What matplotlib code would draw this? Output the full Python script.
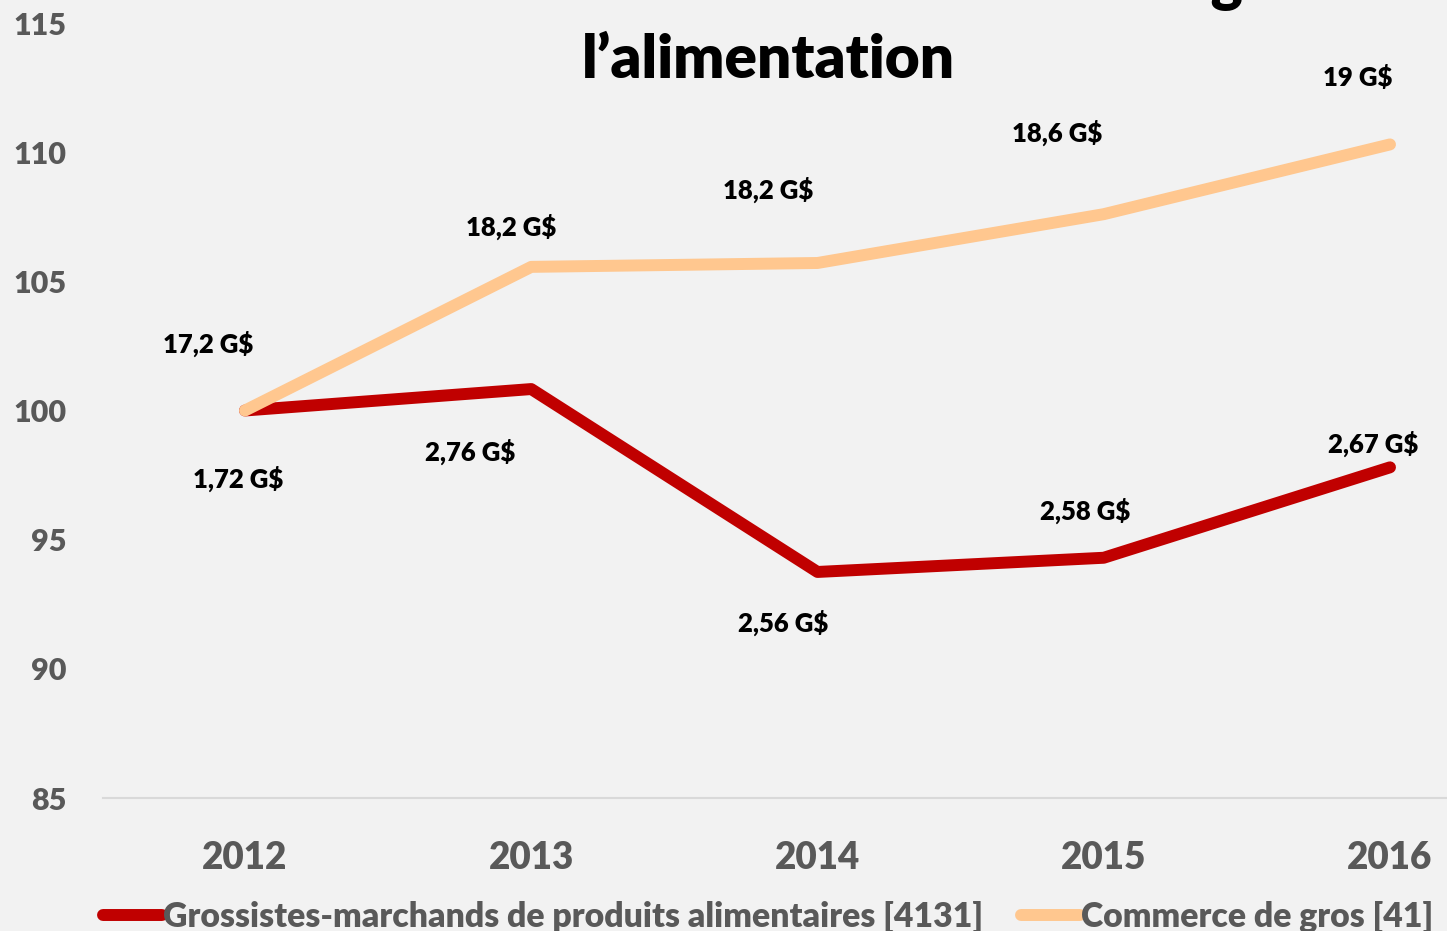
import matplotlib.pyplot as plt

plt.rcParams['font.family'] = ['Lato', 'DejaVu Sans']
plt.rcParams['font.weight'] = 'bold'

years = [2012, 2013, 2014, 2015, 2016]
grossistes = [100.0, 100.83, 93.75, 94.3, 97.8]
commerce = [100.0, 105.56, 105.71, 107.6, 110.3]
labels_grossistes = ['1,72 G$', '2,76 G$', '2,56 G$', '2,58 G$', '2,67 G$']
labels_commerce = ['17,2 G$', '18,2 G$', '18,2 G$', '18,6 G$', '19 G$']
yticks = [85, 90, 95, 100, 105, 110, 115]

# label offsets in pixels (dx, dy), picked by eye
off_g = [(-7, -68), (-61, -63), (-34, -51), (-19, 47), (-17, 23)]
off_c = [(-37, 67), (-20, 40), (-49, 73), (-47, 81), (-32, 67)]

bg = '#F2F2F2'
grey = '#595959'
red = '#C00000'
orange = '#FFC78F'

fig = plt.figure(figsize=(14.47, 9.31), dpi=100, facecolor=bg)
ax = fig.add_axes([103 / 1447, 133 / 931, 1 - 103 / 1447, 775 / 931])
ax.set_facecolor(bg)

ax.plot(years, grossistes, color=red, lw=8.6, solid_capstyle='round',
        solid_joinstyle='round', label='Grossistes-marchands de produits alimentaires [4131]', zorder=3)
ax.plot(years, commerce, color=orange, lw=8.6, solid_capstyle='round',
        solid_joinstyle='round', label='Commerce de gros [41]', zorder=4)

for x, y, t, o in zip(years, grossistes, labels_grossistes, off_g):
    ax.annotate(t, (x, y), xytext=o, textcoords='offset pixels', ha='center', va='center',
                fontsize=18.5, fontweight='heavy', color='black', annotation_clip=False)
for x, y, t, o in zip(years, commerce, labels_commerce, off_c):
    ax.annotate(t, (x, y), xytext=o, textcoords='offset pixels', ha='center', va='center',
                fontsize=18.5, fontweight='heavy', color='black', annotation_clip=False)

ax.set_xlim(2012 - 142 / 286.25, 2016 + 57 / 286.25)
ax.set_ylim(85, 115)
ax.set_xticks(years)
ax.set_xticklabels([str(y) for y in years])
ax.set_yticks(yticks)
ax.tick_params(axis='x', length=0, pad=31, labelsize=26.5, labelcolor=grey)
ax.tick_params(axis='y', length=0, pad=26, labelsize=22, labelcolor=grey)
for lab in ax.get_xticklabels() + ax.get_yticklabels():
    lab.set_fontweight('heavy')

for s in ['top', 'right', 'left']:
    ax.spines[s].set_visible(False)
ax.spines['bottom'].set_color('#D9D9D9')
ax.spines['bottom'].set_linewidth(1.5)

# title, top line is cut by the figure edge
fig.text(768 / 1447, 1.001, 'Croissance du PIB réel du commerce de gros de', ha='center', va='baseline',
         fontsize=43.5, fontweight='heavy', color='black')
fig.text(768 / 1447, (931 - 78) / 931, 'l’alimentation', ha='center', va='baseline',
         fontsize=43.5, fontweight='heavy', color='black')

leg = fig.legend(loc='lower center', bbox_to_anchor=(768 / 1447, -0.035), ncol=2, frameon=False,
                 fontsize=24.3, handlelength=1.75, handletextpad=0.05, columnspacing=1.1)
for t in leg.get_texts():
    t.set_color(grey)
    t.set_fontweight('heavy')

fig.savefig('out.png', dpi=100, facecolor=bg)
